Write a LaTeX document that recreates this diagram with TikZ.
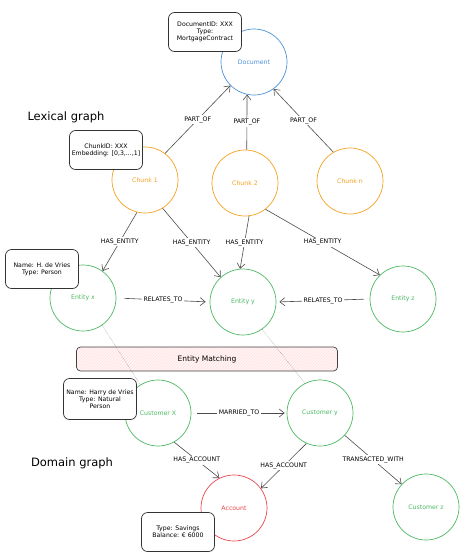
\documentclass[tikz,border=0pt]{standalone}
\usepackage{fontspec}
\setmainfont{DejaVu Sans}
\usetikzlibrary{arrows.meta,patterns}
\definecolor{docblue}{HTML}{4A90D9}
\definecolor{chunkorange}{HTML}{F5A020}
\definecolor{entgreen}{HTML}{4CB862}
\definecolor{accred}{HTML}{E8444A}
\begin{document}
\begin{tikzpicture}
  [x=1pt,y=-1pt
  ,every node/.style={font=\fontsize{6.2}{7.2}\selectfont}
  ,vertex/.style={circle,draw,line width=0.7pt,minimum size=66pt,inner sep=0pt}
  ,doc/.style={vertex,draw=docblue,text=docblue}
  ,chunk/.style={vertex,draw=chunkorange,text=chunkorange}
  ,entity/.style={vertex,draw=entgreen,text=entgreen}
  ,account/.style={vertex,draw=accred,text=accred}
  ,props/.style={rectangle,rounded corners=6pt,draw=black!80,line width=0.7pt,fill=white,align=center,minimum width=73pt,minimum height=39pt,inner sep=1pt}
  ,rel/.style={draw=black!70,line width=0.6pt,-{Straight Barb[length=5pt,width=8pt]}}
  ,lbl/.style={fill=white,inner sep=1.5pt}
  ,title/.style={font=\fontsize{11.5}{13}\selectfont}
  ]
\useasboundingbox (0,0) rectangle (468,560);
% matching box and lines
\node at (83,298)  (entx)  [entity] {Entity x};
\node at (243,302) (enty)  [entity] {Entity y};
\node at (403,299) (entz)  [entity] {Entity z};
\node at (158,413) (custx) [entity] {Customer X};
\node at (320,413) (custy) [entity] {Customer y};
\node at (426,507) (custz) [entity] {Customer z};
\node at (207,359) (matching) [rectangle,rounded corners=4pt,draw=black!75,line width=0.7pt,
  minimum width=261pt,minimum height=24pt,preaction={fill=red!4},
  pattern=north east lines,pattern color=red!12,font=\fontsize{7.5}{9}\selectfont] {Entity Matching};
\draw [densely dotted, black!55] (entx.-55) -- (custx.122);
\draw [densely dotted, black!55] (enty.-55) -- (custy.117);
%
\node at (254,62)  (doc)    [doc]   {Document};
\node at (145,180) (chunk1) [chunk] {Chunk 1};
\node at (245,183) (chunk2) [chunk] {Chunk 2};
\node at (350,181) (chunkn) [chunk] {Chunk n};
\node at (234,508) (acc)    [account] {Account};
%
\draw [rel] (chunk1.53) -- (doc.225) node[lbl,midway]{PART\_OF};
\draw [rel] (chunk2.87) -- (doc.258) node[lbl,midway]{PART\_OF};
\draw [rel] (chunkn.120) -- (doc.-54) node[lbl,midway]{PART\_OF};
\draw [rel] (chunk1.-104) -- (entx.54) node[lbl,midway]{HAS\_ENTITY};
\draw [rel] (chunk1.-58) -- (enty.132) node[lbl,midway]{HAS\_ENTITY};
\draw [rel] (chunk2.-83) -- (enty.95) node[lbl,midway]{HAS\_ENTITY};
\draw [rel] (chunk2.-52) -- (entz.134) node[lbl,midway]{HAS\_ENTITY};
\draw [rel,shorten <=8pt,shorten >=4pt] (entx.east) -- (enty.west) node[lbl,midway]{RELATES\_TO};
\draw [rel,shorten <=6pt,shorten >=3pt] (entz.west) -- (enty.east) node[lbl,midway]{RELATES\_TO};
\draw [rel,shorten <=6pt,shorten >=2pt] (custx.east) -- (custy.west) node[lbl,midway]{MARRIED\_TO};
\draw [rel] (custx.-61) -- (acc.116) node[lbl,midway]{HAS\_ACCOUNT};
\draw [rel] (custy.-114) -- (acc.36) node[lbl,midway]{HAS\_ACCOUNT};
\draw [rel] (custy.-42) -- (custz.137) node[lbl,midway]{TRANSACTED\_WITH};
%
\node at (205,32)  (docprops)   [props] {DocumentID: XXX\\Type:\\MortgageContract};
\node at (106,150) (chunkprops) [props] {ChunkID: XXX\\Embedding: [0,3,...,1]};
\node at (42,269)  (entprops)   [props] {Name: H. de Vries\\Type: Person};
\node at (100,399) (custprops)  [props,minimum height=41pt] {Name: Harry de Vries\\Type: Natural\\Person};
\node at (178,532) (accprops)   [props] {Type: Savings\\Balance: € 6000};
%
\node at (66,117) (lexical) [title] {Lexical graph};
\node at (72,463) (domain)  [title] {Domain graph};
\end{tikzpicture}
\end{document}
